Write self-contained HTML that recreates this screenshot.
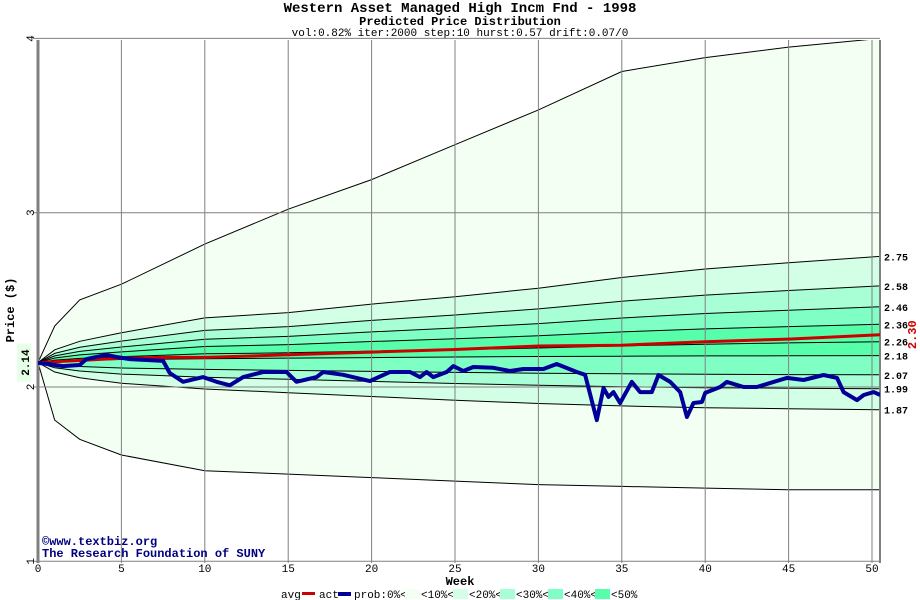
<!DOCTYPE html>
<html><head><meta charset="utf-8"><style>
html,body{margin:0;padding:0;background:#fff}
svg{display:block;font-family:"Liberation Mono",monospace}
</style></head><body>
<svg id="chart" width="920" height="600" viewBox="0 0 920 600" xmlns="http://www.w3.org/2000/svg">
<text x="460" y="12" text-anchor="middle" font-size="14" font-weight="bold">Western Asset Managed High Incm Fnd - 1998</text>
<text x="460" y="25" text-anchor="middle" font-size="12" font-weight="bold">Predicted Price Distribution</text>
<text x="460" y="36" text-anchor="middle" font-size="11">vol:0.82% iter:2000 step:10 hurst:0.57 drift:0.07/0</text>
<defs><clipPath id="pc"><rect x="38" y="40" width="842" height="523"/></clipPath></defs>
<g id="bands" clip-path="url(#pc)"></g>
<g id="grid"></g>
<g id="lines" clip-path="url(#pc)"></g>
<g id="axes"></g>
<text transform="translate(14,310) rotate(-90)" text-anchor="middle" font-size="12" font-weight="bold">Price ($)</text>
<text x="460" y="585" text-anchor="middle" font-size="12" font-weight="bold">Week</text>
<text x="42" y="545" font-size="12" font-weight="bold" fill="#000080">©www.textbiz.org</text>
<text x="42" y="557" font-size="12" font-weight="bold" fill="#000080">The Research Foundation of SUNY</text>
<g font-size="11">
<text x="281" y="598">avg</text><rect x="302" y="592" width="13" height="3" fill="#cc0000"/>
<text x="319" y="598">act</text><rect x="338" y="592" width="13" height="4" fill="#000099"/>
<text x="354" y="598">prob:0%&lt;</text>
<rect x="405" y="589" width="15" height="10" fill="#f2fff2"/><text x="421" y="598">&lt;10%&lt;</text>
<rect x="453" y="589" width="15" height="10" fill="#d2ffe6"/><text x="469" y="598">&lt;20%&lt;</text>
<rect x="500" y="589" width="15" height="10" fill="#a8ffd6"/><text x="516" y="598">&lt;30%&lt;</text>
<rect x="548" y="589" width="15" height="10" fill="#80ffc4"/><text x="564" y="598">&lt;40%&lt;</text>
<rect x="595" y="589" width="15" height="10" fill="#58ffaa"/><text x="611" y="598">&lt;50%</text>
</g>
</svg>
<script>
const weeks=[0,1,2.5,5,10,15,20,25,30,35,40,45,50.5];
const outerUpper=[2.14,2.35,2.5,2.59,2.82,3.02,3.19,3.39,3.59,3.81,3.89,3.95,4.0];
const outerLower=[2.14,1.81,1.70,1.61,1.52,1.50,1.48,1.46,1.44,1.43,1.42,1.41,1.41];
const upperFrac=[0,0.12,0.2,0.28,0.42,0.47,0.55,0.62,0.7,0.8,0.88,0.94,1];
const lowerFrac=[0,0.2,0.32,0.44,0.56,0.64,0.72,0.8,0.87,0.92,0.96,0.98,1];
const startPrice=2.14;
const bandEndUpper=[2.75,2.58,2.46,2.36,2.26];
const bandEndLower=[1.87,1.99,2.07,2.18];
const avgWeeks=[0,5,7.5,10,15,20,25,30,35,40,45,50.5];
const avgPrices=[2.14,2.165,2.17,2.17,2.185,2.20,2.215,2.235,2.24,2.26,2.275,2.30];
const actWeeks=[0,0.6,1.5,2.5,2.9,4.1,4.7,5.5,7.5,7.9,8.7,9.9,10.7,11.5,12.3,13.5,14.9,15.5,16.7,17.1,18.3,19.9,21.1,22.3,22.9,23.3,23.7,24.5,24.9,25.5,26.1,27.3,28.3,29.1,30.3,31.1,32.3,32.8,33.5,33.9,34.2,34.5,34.9,35.6,36.1,36.8,37.2,37.9,38.5,38.9,39.3,39.8,40.0,40.9,41.3,42.3,43.1,44.1,44.9,45.9,47.1,47.9,48.3,49.1,49.5,50.1,50.5];
const actPrices=[2.138,2.132,2.12,2.126,2.16,2.184,2.172,2.16,2.15,2.08,2.03,2.057,2.03,2.01,2.057,2.086,2.086,2.03,2.057,2.086,2.07,2.034,2.086,2.086,2.057,2.086,2.057,2.086,2.12,2.092,2.115,2.11,2.092,2.103,2.103,2.132,2.086,2.07,1.81,1.994,1.943,1.971,1.908,2.029,1.971,1.971,2.069,2.029,1.971,1.828,1.908,1.914,1.966,2.0,2.029,2.0,2.0,2.029,2.052,2.04,2.069,2.052,1.971,1.925,1.954,1.971,1.954];
const xTicks=[0,5,10,15,20,25,30,35,40,45,50];
const yTicks=[1,2,3,4];
const actualLast="2.30";

const NS="http://www.w3.org/2000/svg";
const X=w=>38+w*16.68;
const Y=p=>387-(p-2)*174.3;
function mk(tag,attrs,parent){const e=document.createElementNS(NS,tag);for(const k in attrs)e.setAttribute(k,attrs[k]);parent.appendChild(e);return e;}
function pts(ws,ps){return ws.map((w,i)=>X(w).toFixed(1)+","+Y(ps[i]).toFixed(1));}
const bands=document.getElementById('bands'),grid=document.getElementById('grid'),lines=document.getElementById('lines'),axes=document.getElementById('axes');
const upCurve=e=>weeks.map((w,i)=>startPrice+(e-startPrice)*upperFrac[i]);
const loCurve=e=>weeks.map((w,i)=>startPrice+(e-startPrice)*lowerFrac[i]);
const colors=["#f2fff2","#d2ffe6","#a8ffd6","#80ffc4","#58ffaa"];
const uppers=[outerUpper].concat(bandEndUpper.slice(0,4).map(upCurve));
const lowers=[outerLower].concat(bandEndLower.map(loCurve));
for(let i=0;i<5;i++){
 const p=pts(weeks,uppers[i]).concat(pts(weeks,lowers[i]).reverse());
 const b=mk('polygon',{points:p.join(' '),fill:colors[i]},bands);
 
 
}
const allCurves=[outerUpper,outerLower].concat(bandEndUpper.map(upCurve),bandEndLower.map(loCurve));
allCurves.forEach((c,i)=>{
 const l=mk('polyline',{points:pts(weeks,c).join(' '),fill:'none',stroke:'#000','stroke-width':1},bands);
 
 
});
xTicks.forEach(t=>{
 const g=mk('line',{x1:X(t),x2:X(t),y1:40,y2:563,stroke:'#808080','stroke-width':t===0?3:1},grid);
 
 
 const tx=mk('text',{x:X(t),y:572,'text-anchor':'middle','font-size':11},axes);
 tx.textContent=t;
 
 
});
mk('line',{x1:880,x2:880,y1:40,y2:563,stroke:'#808080','stroke-width':2},grid);
yTicks.forEach(t=>{
 const g=mk('line',{x1:33,x2:880,y1:Y(t),y2:Y(t),stroke:'#808080','stroke-width':1},grid);
 
 
 const tx=mk('text',{transform:`translate(34,${Y(t)}) rotate(-90)`,'text-anchor':'middle','font-size':11},axes);
 tx.textContent=t;
 
 
});
const avg=mk('polyline',{points:pts(avgWeeks,avgPrices).join(' '),fill:'none',stroke:'#cc0000','stroke-width':3},lines);


const act=mk('polyline',{points:pts(actWeeks,actPrices).join(' '),fill:'none',stroke:'#000099','stroke-width':4,'stroke-linejoin':'round'},lines);


const ends=bandEndUpper.concat(bandEndLower);
ends.forEach((v,i)=>{
 const tx=mk('text',{x:884,y:Y(v)+4,'font-size':10,'font-weight':'bold'},axes);
 tx.textContent=v.toFixed(2);
 
 
});
const sb=mk('rect',{x:17,y:Y(startPrice)-19,width:14,height:38,fill:'#e6ffe6'},axes);


const st=mk('text',{transform:`translate(29,${Y(startPrice)}) rotate(-90)`,'text-anchor':'middle','font-size':11,'font-weight':'bold'},axes);
st.textContent=startPrice.toFixed(2);


const al=mk('text',{transform:`translate(916,${Y(avgPrices[avgPrices.length-1])}) rotate(-90)`,'text-anchor':'middle','font-size':12,'font-weight':'bold',fill:'#cc0000'},axes);
al.textContent=actualLast;


</script>
</body></html>
